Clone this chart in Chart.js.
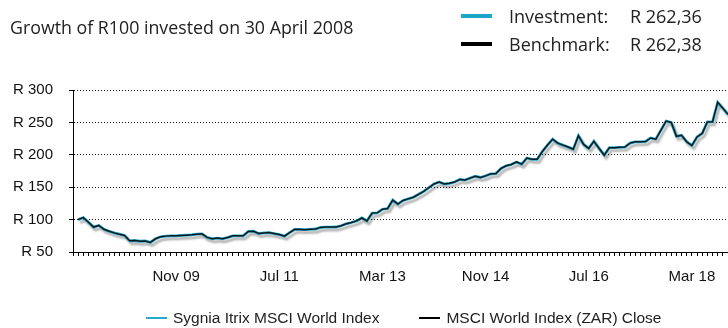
<!DOCTYPE html>
<html>
<head>
<meta charset="utf-8">
<script src="https://cdn.jsdelivr.net/npm/chart.js@4.4.1/dist/chart.umd.min.js"></script>
<style>
  body { margin: 0; background: #fff; }
  #wrap { position: relative; width: 728px; height: 328px; overflow: hidden; font-family: 'Open Sans', sans-serif; color: #222; }
  #chart { position: absolute; left: 0; top: 0; }
  #title { position: absolute; left: 10px; top: 15px; font-size: 17.8px; line-height: 24px; white-space: nowrap; }
  .key { position: absolute; left: 461px; font-size: 18px; line-height: 24px; white-space: nowrap; }
  .key i { position: absolute; left: 0; top: 10px; width: 31px; height: 4px; }
  .key .name { position: absolute; left: 48px; top: 0; }
  .key .val { position: absolute; left: 169px; top: 0; }
  #legend { position: absolute; left: 146px; top: 308px; display: flex; font-family: 'Liberation Sans', Arial, sans-serif; font-size: 15.5px; line-height: 20px; color: #222; white-space: nowrap; }
  #legend span { display: flex; align-items: center; margin-right: 40px; }
  #legend b { display: inline-block; width: 21px; height: 2px; margin-right: 6px; }
</style>
</head>
<body>
<div id="wrap">
  <canvas id="chart" width="728" height="328"></canvas>
  <div id="title">Growth of R100 invested on 30 April 2008</div>
  <div class="key" style="top:4px"><i style="background:#1ea6c8"></i><span class="name">Investment:</span><span class="val" id="valInv"></span></div>
  <div class="key" style="top:32px"><i style="background:#000"></i><span class="name">Benchmark:</span><span class="val" id="valBen"></span></div>
  <div id="legend"></div>
</div>
<script>
// month-end values of R100 invested, Apr 2008 to Oct 2018
const investment = [
  100, 103, 96, 88.5, 91, 85, 82, 79.5, 77.5, 75.5,
  67.2, 67.7, 66.6, 67, 64.8, 70.4, 73.5, 74.5, 75, 75,
  75.5, 76, 76.5, 77.5, 78, 72.5, 70.4, 71.5, 70.4, 72.5,
  75, 75, 75, 81.7, 82, 78.5, 79.5, 80, 78.5, 77,
  74.5, 80, 85, 84.8, 84.5, 85, 85.5, 88, 88.4, 88.4,
  88.6, 90.5, 93.5, 95.5, 98, 102.5, 98, 110, 110.5, 116,
  117, 130, 124, 129.5, 132, 134.5, 139, 143.5, 149.5, 155,
  158, 155, 156, 158, 162, 161, 164, 167, 165, 167.5,
  170.5, 171, 179, 183, 185, 189, 185.5, 195, 193, 193,
  205, 215, 224, 218, 215, 212, 208.7, 229.5, 216, 210,
  221, 210, 199.5, 211, 211, 211.5, 212, 218, 220, 220,
  220.5, 226, 224, 238, 252, 250, 228.5, 230, 220, 214.5,
  227.5, 233, 250.8, 251, 281, 272, 262.36
];
const benchmark = [
  100, 103, 96, 88.5, 91, 85, 82, 79.5, 77.5, 75.5,
  67.2, 67.7, 66.6, 67, 64.8, 70.4, 73.5, 74.5, 75, 75,
  75.5, 76, 76.5, 77.5, 78, 72.5, 70.4, 71.5, 70.4, 72.5,
  75, 75, 75, 81.7, 82, 78.5, 79.5, 80, 78.5, 77,
  74.5, 80, 85, 84.8, 84.5, 85, 85.5, 88, 88.4, 88.4,
  88.6, 90.5, 93.5, 95.5, 98, 102.5, 98, 110, 110.5, 116,
  117, 130, 124, 129.5, 132, 134.5, 139, 143.5, 149.5, 155,
  158, 155, 156, 158, 162, 161, 164, 167, 165, 167.5,
  170.5, 171, 179, 183, 185, 189, 185.5, 195, 193, 193,
  205, 215, 224, 218, 215, 212, 208.7, 229.5, 216, 210,
  221, 210, 199.5, 211, 211, 211.5, 212, 218, 220, 220,
  220.5, 226, 224, 238, 252, 250, 228.5, 230, 220, 214.5,
  227.5, 233, 250.8, 251, 281, 272, 262.38
];
const tickLabels = ['Nov 09', 'Jul 11', 'Mar 13', 'Nov 14', 'Jul 16', 'Mar 18'];
const seriesNames = ['Sygnia Itrix MSCI World Index', 'MSCI World Index (ZAR) Close'];
const seriesColors = ['#2aa9cc', '#000000'];

// axis runs from Mar 08 (empty slot) so the first point sits one month in
const monthNames = ['Jan', 'Feb', 'Mar', 'Apr', 'May', 'Jun', 'Jul', 'Aug', 'Sep', 'Oct', 'Nov', 'Dec'];
const months = [];
for (let i = 0; i <= investment.length; i++) {
  const m = 2 + i;
  months.push(monthNames[m % 12] + ' ' + String(2008 + Math.floor(m / 12)).slice(2));
}

const rand = v => 'R ' + v.toFixed(2).replace('.', ',');
document.getElementById('valInv').textContent = rand(investment[investment.length - 1]);
document.getElementById('valBen').textContent = rand(benchmark[benchmark.length - 1]);

document.getElementById('legend').innerHTML = seriesNames.map((n, i) =>
  '<span><b style="background:' + seriesColors[i] + '"></b>' + n + '</span>').join('');

// soft grey shadow under the fund line
const lineShadow = {
  id: 'lineShadow',
  beforeDatasetDraw(chart, args) {
    if (args.index !== 0) return;
    const ctx = chart.ctx;
    ctx.save();
    ctx.shadowColor = 'rgba(0,0,0,0.3)';
    ctx.shadowBlur = 2;
    ctx.shadowOffsetX = 2;
    ctx.shadowOffsetY = 3;
  },
  afterDatasetDraw(chart, args) {
    if (args.index === 0) chart.ctx.restore();
  }
};

const tickFont = { family: "'Liberation Sans', Arial, sans-serif", size: 15 };

new Chart(document.getElementById('chart'), {
  type: 'line',
  data: {
    labels: months,
    datasets: [
      {
        label: seriesNames[0],
        data: [null].concat(investment),
        borderColor: seriesColors[0],
        borderWidth: 2.8,
        pointRadius: 0,
        order: 2
      },
      {
        label: seriesNames[1],
        data: [null].concat(benchmark),
        borderColor: '#0a1a1e',
        borderWidth: 1.5,
        pointRadius: 0,
        order: 1
      }
    ]
  },
  options: {
    responsive: false,
    animation: false,
    layout: { padding: { top: 90, left: 0, right: 0, bottom: 30 } },
    plugins: { legend: { display: false }, tooltip: { enabled: false } },
    scales: {
      x: {
        grid: { drawOnChartArea: false, tickLength: 4, color: '#000', tickBorderDash: [] },
        border: { color: '#000', width: 1 },
        ticks: {
          autoSkip: false, maxRotation: 0, padding: 12, color: '#111', font: tickFont,
          callback: function (v) {
            const lab = this.getLabelForValue(v);
            return tickLabels.includes(lab) ? lab : '';
          }
        },
        afterFit: s => { s.paddingLeft = 0; s.paddingRight = 0; }
      },
      y: {
        min: 50, max: 300,
        grid: { color: '#111', tickLength: 4, tickBorderDash: [], tickColor: '#000' },
        border: { color: '#000', width: 1, dash: [1, 2] },
        ticks: { stepSize: 50, padding: 16, color: '#111', font: tickFont, callback: v => 'R ' + v },
        afterFit: s => { s.width = 73; }
      }
    }
  },
  plugins: [lineShadow]
});
</script>
</body>
</html>
